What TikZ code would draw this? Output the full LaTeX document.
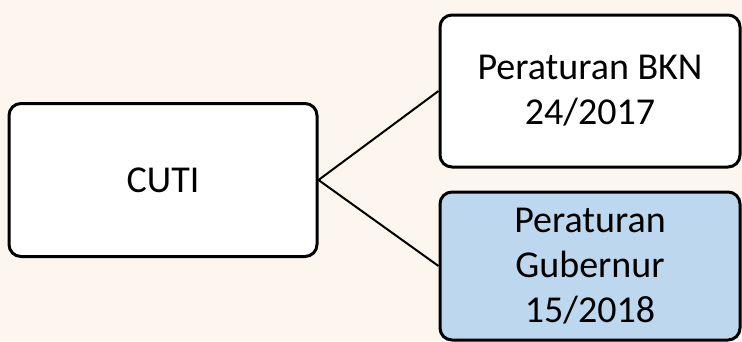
\documentclass[tikz,border=0pt]{standalone}
\usepackage{fontspec}
\setmainfont{Carlito}
\usepackage{tikz}
\usepackage{xcolor}

\definecolor{paper}{HTML}{FCF6EF}
\definecolor{lightblue}{HTML}{BDD7EE}

\tikzset{
    rulebox/.style={draw, line width=3pt, rounded corners=12pt, fill=white,
        align=center, inner sep=0pt, font=\fontsize{38}{45}\selectfont},
    link/.style={line width=2pt}
}

\begin{document}
\begin{tikzpicture}[x=1pt, y=-1pt]
        % page and background
        \useasboundingbox (0, 0) rectangle (742, 341);
        \fill[paper] (0, 0) rectangle (742, 341);
        
        % Left box
        \node[rulebox, minimum width=308pt, minimum height=153pt] (cuti) at (163, 180) {CUTI};
        
        % Right boxes
        \node[rulebox, minimum width=300pt, minimum height=152pt] (bkn) at (590, 91) {Peraturan BKN\\24/2017};
        \node[rulebox, fill=lightblue, minimum width=300pt, minimum height=148pt] (gub) at (590, 266) {Peraturan\\Gubernur\\15/2018};
        
        % Connectors
        \draw[link] (cuti.east) -- (bkn.west);
        \draw[link] (cuti.east) -- (gub.west);
    \end{tikzpicture}
\end{document}
